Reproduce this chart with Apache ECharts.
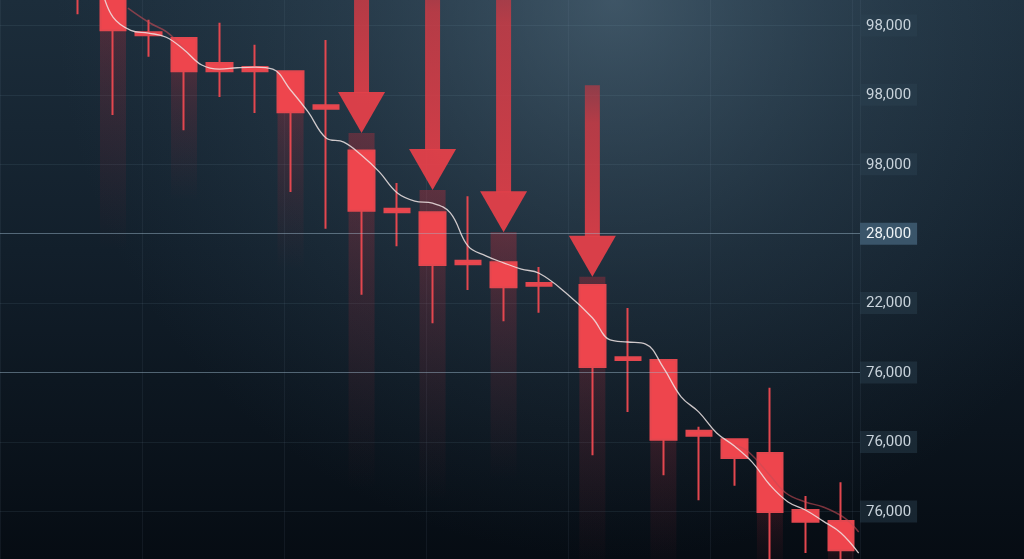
<!DOCTYPE html>
<html>
<head>
<meta charset="utf-8">
<script src="https://cdn.jsdelivr.net/npm/echarts@6/dist/echarts.min.js"></script>
<style>
html,body{margin:0;padding:0;background:#0b141d;}
#chart{width:1024px;height:559px;}
</style>
</head>
<body>
<div id="chart"></div>
<script>
// ---- data ----
// candle slots (time index; the 15th candle comes after a one-and-a-half slot gap)
const slots  = [-1, 0, 1, 2, 3, 4, 5, 6, 7, 8, 9, 10, 11, 12, 13.5, 14.5, 15.5, 16.5, 17.5, 18.5, 19.5, 20.5];
const opens  = [8800, 8650, 7900, 7820, 7460, 7400, 7340, 6850, 6200, 5360, 5310, 4610, 4590, 4290, 4260, 3220, 3180, 2160, 2040, 1840, 1020, 860];
const closes = [8440, 7930, 7860, 7340, 7340, 7340, 6750, 6800, 5330, 5310, 4550, 4560, 4230, 4250, 3080, 3180, 2030, 2090, 1770, 990, 850, 440];
const lows   = [8160, 6710, 7550, 6490, 6970, 6740, 5600, 5070, 4120, 4820, 3710, 4190, 3740, 3860, 1810, 2430, 1520, 1160, 1370, 100, 400, 100];
const highs  = [8950, 8800, 8080, 7820, 8040, 7720, 7340, 7790, 6200, 5730, 5310, 5540, 4590, 4520, 4260, 3930, 3180, 2220, 2040, 2780, 1220, 1420];

// moving average (light line)
const maSlots  = [-0.3, 0, 0.5, 1, 1.5, 2, 2.5, 3, 3.5, 4, 4.5, 5, 5.5, 6, 6.5, 7, 7.5, 8, 8.5, 9, 9.5, 10, 10.5, 11, 11.5, 12, 12.75, 13.5, 14, 14.5, 15, 15.5, 16, 16.5, 17, 17.5, 18, 18.5, 19, 19.5, 20, 20.5, 21];
const maValues = [8500, 8120, 7930, 7890, 7830, 7650, 7430, 7370, 7390, 7400, 7370, 7070, 6750, 6380, 6320, 6130, 5890, 5590, 5470, 5440, 5300, 4820, 4680, 4580, 4490, 4430, 4150, 3790, 3470, 3440, 3410, 3070, 2650, 2430, 2130, 1940, 1710, 1380, 1140, 1020, 860, 690, 400];
// slower moving average (dim red line; only visible where it leaves the light line)
const ma2Slots  = [0.42, 1.04, 1.52, 1.9, 2.1, 17.5, 17.9, 18.5, 18.95, 19.5, 20, 20.6, 21];
const ma2Values = [8250, 8035, 7905, 7718, 7600, 1960, 1855, 1520, 1265, 1135, 1063, 906, 703];
const ma2Breaks = [4]; // the line is not drawn after these points

// highlighted (glowing) candles: slot, top and fade-out level of the glow
const glowSlots   = [0, 2, 5, 7, 9, 11, 13.5, 15.5, 18.5, 20.5];
const glowTops    = [8650, 7820, 7340, 6450, 5630, 5020, 4380, 3180, 1840, 860];
const glowBottoms = [4760, 5480, 4480, 1310, 1160, 1450, 0, 0, 0, 0];

// down arrows: slot, shaft top, tip
const arrowSlots = [7, 9, 11, 13.5];
const arrowTops  = [8850, 8850, 8850, 7140];
const arrowTips  = [6450, 5630, 5020, 4380];

// y tick labels (top to bottom) and their tick values
const tickValues = [8000, 7000, 6000, 5000, 4000, 3000, 2000, 1000];
const tickLabels = ['98,000', '98,000', '98,000', '28,000', '22,000', '76,000', '76,000', '76,000'];
const highlightLabel = 3;
const markedLevels = [5000, 3000];

// ---- build ----
const candleData = slots.map((s, i) => [s, opens[i], closes[i], lows[i], highs[i]]);
const maData = maSlots.map((s, i) => [s, maValues[i]]);
const ma2Data = [];
ma2Slots.forEach((s, i) => {
  ma2Data.push([s, ma2Values[i]]);
  if (ma2Breaks.indexOf(i) >= 0) ma2Data.push([s, null]);
});
const glowData = glowSlots.map((s, i) => [s, glowTops[i], glowBottoms[i]]);
const arrowData = arrowSlots.map((s, i) => [s, arrowTops[i], arrowTips[i]]);

const chart = echarts.init(document.getElementById('chart'), null, {renderer: 'canvas'});
const RED = '#ee454d';

const option = {
  animation: false,
  backgroundColor: {
    type: 'linear', x: 0, y: 0, x2: 0, y2: 1,
    colorStops: [
      {offset: 0, color: '#1c2d3b'},
      {offset: 0.45, color: '#121f2b'},
      {offset: 1, color: '#060c13'}
    ]
  },
  graphic: [{
    type: 'rect', z: -10, silent: true,
    shape: {x: 0, y: 0, width: 1024, height: 559},
    style: {
      fill: {
        type: 'radial', x: 0.6, y: 0.0, r: 1.0,
        colorStops: [
          {offset: 0, color: 'rgba(105,135,155,0.45)'},
          {offset: 0.5, color: 'rgba(80,110,130,0.2)'},
          {offset: 1, color: 'rgba(60,90,110,0)'}
        ]
      }
    }
  }],
  grid: {left: 0, right: 164, top: -44, bottom: -21.8, outerBoundsMode: 'none', containLabel: false},
  xAxis: {
    type: 'value', min: -3.182, max: 21.037, interval: 4,
    axisLine: {show: false}, axisTick: {show: false}, axisLabel: {show: false},
    splitLine: {show: true, lineStyle: {color: 'rgba(130,160,180,0.09)', width: 1}}
  },
  yAxis: {
    type: 'value', position: 'right', min: 0, max: 9000, interval: 1000,
    axisLine: {show: false}, axisTick: {show: false},
    splitLine: {show: true, lineStyle: {color: 'rgba(130,160,180,0.11)', width: 1}},
    axisLabel: {
      show: true, margin: 0, align: 'left',
      formatter: function (v) {
        const i = tickValues.indexOf(v);
        if (i < 0) return '';
        return (i === highlightLabel ? '{h|' : '{n|') + tickLabels[i] + '}';
      },
      rich: {
        n: {fontFamily: 'Roboto', fontSize: 15, color: '#c9d3db', backgroundColor: 'rgba(45,66,82,0.45)', padding: [4, 6, 3, 6]},
        h: {fontFamily: 'Roboto', fontSize: 15, color: '#eef3f6', backgroundColor: '#3a556a', padding: [4, 6, 3, 6]}
      }
    }
  },
  series: [
    {
      type: 'custom', name: 'glow', z: 1, silent: true,
      data: glowData,
      renderItem: function (params, api) {
        const x = api.value(0);
        const pTop = api.coord([x, api.value(1)]);
        const pBot = api.coord([x, api.value(2)]);
        const w = 26;
        return {
          type: 'rect',
          shape: {x: pTop[0] - w / 2, y: pTop[1], width: w, height: pBot[1] - pTop[1]},
          style: {
            fill: new echarts.graphic.LinearGradient(0, 0, 0, 1, [
              {offset: 0, color: 'rgba(195,46,60,0.36)'},
              {offset: 0.4, color: 'rgba(175,40,54,0.2)'},
              {offset: 1, color: 'rgba(150,35,45,0)'}
            ])
          }
        };
      }
    },
    {
      type: 'candlestick', name: 'price', z: 3,
      barWidth: 26,
      data: candleData,
      itemStyle: {color: RED, color0: RED, borderColor: '#e3474f', borderColor0: '#e3474f', borderWidth: 2},
      markLine: {
        silent: true, symbol: ['none', 'none'], label: {show: false},
        lineStyle: {color: 'rgba(160,185,205,0.42)', type: 'solid', width: 1},
        data: markedLevels.map(v => ({yAxis: v}))
      }
    },
    {
      type: 'custom', name: 'arrows', z: 4, silent: true,
      data: arrowData,
      renderItem: function (params, api) {
        const x = api.value(0);
        const pTop = api.coord([x, api.value(1)]);
        const pTip = api.coord([x, api.value(2)]);
        const cx = pTip[0];
        const headH = 41, headW = 47, shaftW = 15;
        const headBase = pTip[1] - headH;
        return {
          type: 'group',
          children: [
            {
              type: 'rect',
              shape: {x: cx - shaftW / 2, y: pTop[1], width: shaftW, height: headBase - pTop[1] + 1},
              style: {
                fill: new echarts.graphic.LinearGradient(0, 0, 0, 1, [
                  {offset: 0, color: 'rgba(200,55,66,0.62)'},
                  {offset: 0.25, color: 'rgba(210,58,68,0.82)'},
                  {offset: 1, color: 'rgba(222,62,72,0.92)'}
                ])
              }
            },
            {
              type: 'polygon',
              shape: {points: [[cx - headW / 2, headBase], [cx + headW / 2, headBase], [cx, pTip[1]]]},
              style: {fill: 'rgba(228,64,74,0.95)'}
            }
          ]
        };
      }
    },
    {
      type: 'line', name: 'ma slow', z: 5, silent: true,
      data: ma2Data, smooth: 0.4, showSymbol: false, connectNulls: false,
      lineStyle: {color: 'rgba(200,75,85,0.6)', width: 1.5}
    },
    {
      type: 'line', name: 'ma', z: 6, silent: true,
      data: maData, smooth: 0.4, showSymbol: false,
      lineStyle: {color: 'rgba(238,228,228,0.85)', width: 1.3}
    }
  ]
};
chart.setOption(option);
</script>
</body>
</html>
